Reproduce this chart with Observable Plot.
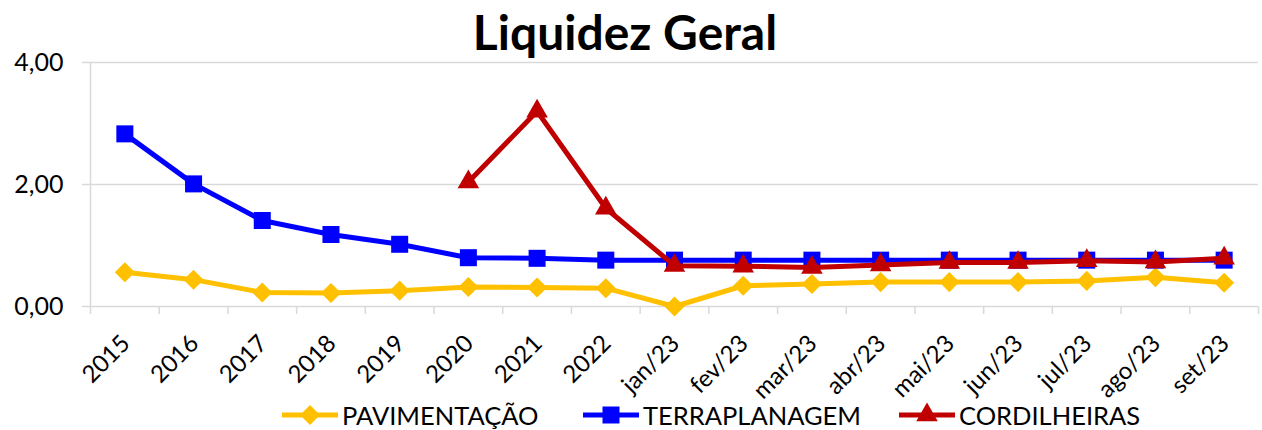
<!DOCTYPE html>
<html>
<head>
<meta charset="utf-8">
<script src="https://cdn.jsdelivr.net/npm/d3@7"></script>
<script src="https://cdn.jsdelivr.net/npm/@observablehq/plot@0.6"></script>
<style>
  html, body { margin: 0; padding: 0; background: #fff; }
  #chart svg { display: block; }
</style>
</head>
<body>
<div id="chart"></div>
<script>
const title = "Liquidez Geral";
const categories = ["2015","2016","2017","2018","2019","2020","2021","2022","jan/23","fev/23","mar/23","abr/23","mai/23","jun/23","jul/23","ago/23","set/23"];
const yTicks = [0, 2, 4];
const seriesNames = ["PAVIMENTAÇÃO", "TERRAPLANAGEM", "CORDILHEIRAS"];
const pavimentacao = [0.56,0.44,0.23,0.22,0.26,0.32,0.31,0.30,0.00,0.34,0.37,0.40,0.40,0.40,0.42,0.48,0.39];
const terraplanagem = [2.83,2.01,1.41,1.18,1.02,0.80,0.79,0.76,0.76,0.76,0.76,0.76,0.76,0.76,0.76,0.76,0.76];
const cordilheiras = [null,null,null,null,null,2.04,3.20,1.61,0.67,0.66,0.64,0.68,0.72,0.72,0.75,0.73,0.79];
const colors = ["#FFC000", "#0000FF", "#C00000"];

const FONT = "Lato, 'Liberation Sans', sans-serif";
const toRows = (vals) => vals.map((v, i) => ({i, v})).filter(d => d.v != null);
const rowsP = toRows(pavimentacao), rowsT = toRows(terraplanagem), rowsC = toRows(cordilheiras);
const idx = d3.range(categories.length);
const edges = d3.range(categories.length + 1).map(k => k - 0.5);
const fmt = d => d.toFixed(2).replace(".", ",");

const chart = Plot.plot({
  width: 1262, height: 430,
  marginTop: 62, marginBottom: 124, marginLeft: 90, marginRight: 4,
  style: {fontFamily: FONT, background: "#fff", color: "#000"},
  x: {domain: [-0.5, categories.length - 0.5]},
  y: {domain: [0, 4]},
  marks: [
    Plot.gridY([2, 4], {stroke: "#d9d9d9", strokeOpacity: 1, strokeWidth: 1.5}),
    Plot.ruleY([0], {stroke: "#d9d9d9", strokeWidth: 1.5}),
    Plot.ruleX([-0.5], {stroke: "#d9d9d9", strokeWidth: 1.5}),
    Plot.axisY(yTicks, {tickSize: 8, tickPadding: 19, stroke: "#d9d9d9", strokeOpacity: 1, strokeWidth: 1.5, fill: "#000", tickFormat: fmt, fontSize: 25, label: null}),
    Plot.axisX(edges, {tickSize: 8, stroke: "#d9d9d9", strokeOpacity: 1, strokeWidth: 1.5, tickFormat: () => "", label: null}),
    Plot.text(idx, {x: d => d, y: () => 0, text: i => categories[i], rotate: -45, textAnchor: "end", lineAnchor: "middle", dx: 1, dy: 33, fontSize: 24, fill: "#000"}),
    Plot.line(rowsP, {x: "i", y: "v", stroke: colors[0], strokeWidth: 5}),
    Plot.dot(rowsP, {x: "i", y: "v", symbol: "square", rotate: 45, r: 8, fill: colors[0]}),
    Plot.line(rowsT, {x: "i", y: "v", stroke: colors[1], strokeWidth: 5}),
    Plot.dot(rowsT, {x: "i", y: "v", symbol: "square", r: 9.6, fill: colors[1]}),
    Plot.line(rowsC, {x: "i", y: "v", stroke: colors[2], strokeWidth: 5}),
    Plot.dot(rowsC, {x: "i", y: "v", symbol: "triangle", r: 8, fill: colors[2]})
  ]
});

document.getElementById("chart").appendChild(chart);

const svg = d3.select(chart);
svg.append("text")
  .attr("x", 625).attr("y", 31)
  .attr("text-anchor", "middle").attr("dominant-baseline", "central")
  .attr("font-family", FONT).attr("font-weight", "bold").attr("font-size", 48)
  .attr("fill", "#000")
  .text(title);

// Legend
const legendX = [282, 583, 899];
const symbols = [d3.symbolSquare, d3.symbolSquare, d3.symbolTriangle];
const sizes = [Math.PI * 64, Math.PI * 92, Math.PI * 64];
const rot = [45, 0, 0];
const lg = svg.append("g").attr("font-family", FONT).attr("font-size", 25.5).attr("text-anchor", "start");
seriesNames.forEach((name, k) => {
  const g = lg.append("g").attr("transform", `translate(${legendX[k]},415)`);
  g.append("line").attr("x1", 0).attr("x2", 56).attr("y1", 0).attr("y2", 0)
    .attr("stroke", colors[k]).attr("stroke-width", 5);
  g.append("path").attr("d", d3.symbol(symbols[k], sizes[k])())
    .attr("transform", `translate(28,0) rotate(${rot[k]})`).attr("fill", colors[k]);
  g.append("text").attr("x", 60).attr("y", 0).attr("dominant-baseline", "central")
    .attr("text-anchor", "start")
    .attr("fill", "#000").text(name);
});
</script>
</body>
</html>
